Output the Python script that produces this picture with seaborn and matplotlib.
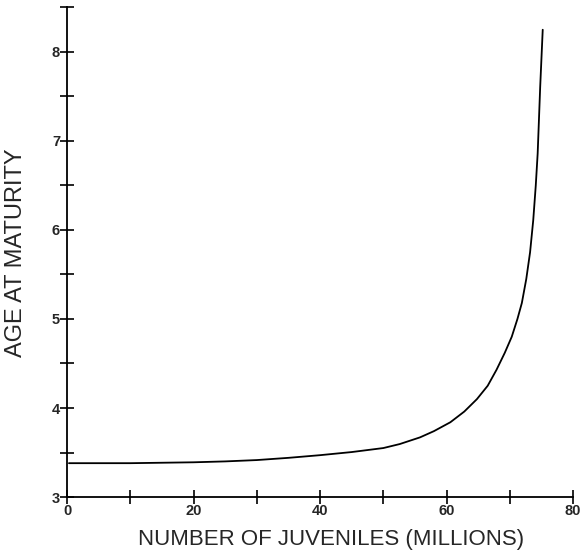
import pandas as pd
import matplotlib.pyplot as plt
import seaborn as sns
from matplotlib.ticker import MultipleLocator

# Values
juveniles = [0.3, 5, 10, 15, 20, 25, 30, 35, 40, 45, 50, 52.6, 55.8, 58.0,
             60.6, 62.8, 64.8, 66.5, 67.9, 69.2, 70.3, 71.2, 71.9, 72.6,
             73.2, 73.7, 74.1, 74.4, 74.8, 75.2]
age = [3.38, 3.38, 3.38, 3.385, 3.39, 3.40, 3.415, 3.44, 3.47, 3.505, 3.55,
       3.595, 3.67, 3.74, 3.84, 3.96, 4.10, 4.25, 4.43, 4.62, 4.80, 5.0,
       5.18, 5.45, 5.75, 6.11, 6.5, 6.86, 7.61, 8.25]

df = pd.DataFrame({'juveniles': juveniles, 'age': age})

sns.set_style('ticks')
plt.rcParams['font.family'] = ['Liberation Sans', 'DejaVu Sans']

fig = plt.figure(figsize=(5.83, 5.55), dpi=100)
ax = fig.add_axes([0.115, 0.1045, 0.868, 0.882])

sns.lineplot(x='juveniles', y='age', data=df, color='black', linewidth=1.3, ax=ax)

ax.set_xlim(0, 80)
ax.set_ylim(3, 8.5)
ax.xaxis.set_major_locator(MultipleLocator(20))
ax.xaxis.set_minor_locator(MultipleLocator(10))
ax.yaxis.set_major_locator(MultipleLocator(1))
ax.yaxis.set_minor_locator(MultipleLocator(0.5))
ax.tick_params(which='both', direction='inout', length=10, width=1.2,
               color='black', labelsize=10.5, pad=0)
for lab in ax.get_xticklabels() + ax.get_yticklabels():
    lab.set_fontweight('bold')

sns.despine(ax=ax)
for s in ['left', 'bottom']:
    ax.spines[s].set_linewidth(1.3)
    ax.spines[s].set_color('black')

ax.set_xlabel('NUMBER OF JUVENILES (MILLIONS)', fontsize=16, labelpad=6)
ax.xaxis.set_label_coords(0.522, -0.065)
ax.set_ylabel('AGE AT MATURITY', fontsize=17, labelpad=18)

plt.savefig('out.png', dpi=100)
